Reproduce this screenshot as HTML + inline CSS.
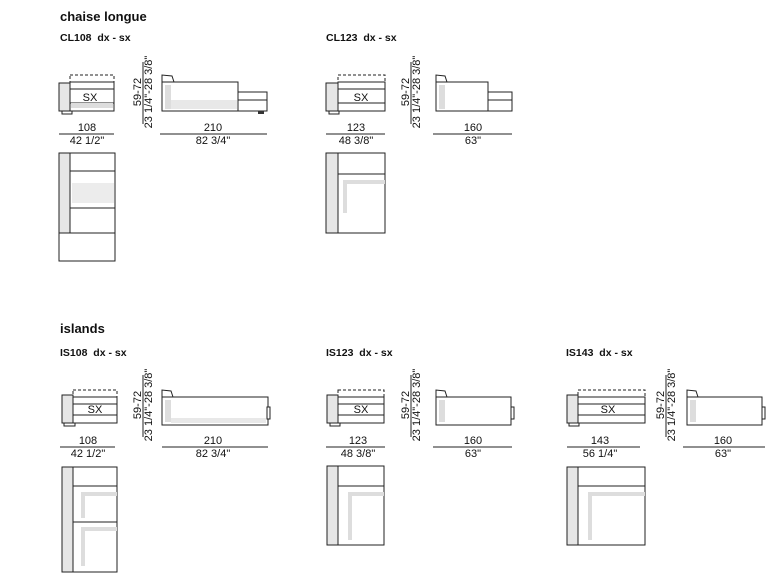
<!DOCTYPE html>
<html><head><meta charset="utf-8"><style>
html,body{margin:0;padding:0;background:#fff;}
svg{display:block;font-family:"Liberation Sans",Arial,sans-serif;}
.t{font-weight:bold;fill:#111;white-space:pre;}
.s{stroke:#222;stroke-width:1;fill:none;}
.g{fill:#e6e6e6;stroke:#222;stroke-width:1;}
.w{fill:#fff;stroke:#222;stroke-width:1;}
.d{stroke:#222;stroke-width:1;fill:none;stroke-dasharray:3,2;}
.n{font-size:11px;fill:#111;text-anchor:middle;}
</style></head><body>
<svg width="774" height="587" viewBox="0 0 774 587" xmlns="http://www.w3.org/2000/svg">
<text x="60" y="21" class="t" font-size="13">chaise longue</text>
<text x="60" y="41" class="t" font-size="10.5">CL108&#160; dx - sx</text>
<text x="326" y="41" class="t" font-size="10.5">CL123&#160; dx - sx</text>
<text x="60" y="333" class="t" font-size="13">islands</text>
<text x="60" y="356" class="t" font-size="10.5">IS108&#160; dx - sx</text>
<text x="326" y="356" class="t" font-size="10.5">IS123&#160; dx - sx</text>
<text x="566" y="356" class="t" font-size="10.5">IS143&#160; dx - sx</text>

<!-- CL108 -->
<g>
<rect x="70" y="75" width="44" height="8" class="d"/>
<rect x="59" y="83" width="11" height="28" class="g"/>
<rect x="70" y="82" width="44" height="29" class="w"/>
<line x1="70" y1="89" x2="114" y2="89" class="s"/><line x1="70" y1="103" x2="114" y2="103" class="s"/>
<rect x="71" y="103" width="42" height="5" fill="#ddd"/>
<text x="90" y="101" class="n" font-size="11">SX</text>
<rect x="62" y="111" width="10" height="3" class="w"/>
<text transform="translate(141,92) rotate(-90)" class="n">59-72</text>
<line x1="143" y1="62" x2="143" y2="124" class="s"/>
<text transform="translate(152,92) rotate(-90)" class="n" font-size="9.5">23 1/4"-28 3/8"</text>
<rect x="162" y="82" width="76" height="29" class="w"/>
<rect x="165" y="85" width="6" height="24" fill="#ddd"/>
<rect x="171" y="100" width="66" height="9" fill="#e8e8e8"/>
<path d="M162 82 L162 75 L172 76 L174 82" class="s"/>
<rect x="238" y="92" width="29" height="19" class="w"/>
<line x1="238" y1="100" x2="267" y2="100" class="s"/>
<rect x="258" y="111" width="6" height="3" fill="#333"/>
<text x="87" y="131" class="n">108</text><line x1="59" y1="134" x2="114" y2="134" class="s"/><text x="87" y="144" class="n" font-size="10">42 1/2"</text>
<text x="213" y="131" class="n">210</text><line x1="160" y1="134" x2="267" y2="134" class="s"/><text x="213" y="144" class="n" font-size="10">82 3/4"</text>
<rect x="59" y="153" width="56" height="108" class="w"/>
<rect x="59" y="153" width="11" height="80" class="g"/>
<line x1="70" y1="171" x2="115" y2="171" class="s"/>
<rect x="72" y="183" width="42" height="20" fill="#ececec"/>
<line x1="70" y1="208" x2="115" y2="208" class="s"/>
<line x1="59" y1="233" x2="115" y2="233" class="s"/>
</g>

<!-- CL123 -->
<g>
<rect x="338" y="75" width="47" height="8" class="d"/>
<rect x="326" y="83" width="12" height="28" class="g"/>
<rect x="338" y="82" width="47" height="29" class="w"/>
<line x1="338" y1="89" x2="385" y2="89" class="s"/><line x1="338" y1="103" x2="385" y2="103" class="s"/>
<text x="361" y="101" class="n" font-size="11">SX</text>
<rect x="329" y="111" width="10" height="3" class="w"/>
<text transform="translate(409,92) rotate(-90)" class="n">59-72</text>
<line x1="411" y1="62" x2="411" y2="124" class="s"/>
<text transform="translate(420,92) rotate(-90)" class="n" font-size="9.5">23 1/4"-28 3/8"</text>
<rect x="436" y="82" width="52" height="29" class="w"/>
<rect x="439" y="85" width="6" height="24" fill="#ddd"/>
<path d="M436 82 L436 75 L445 76 L447 82" class="s"/>
<rect x="488" y="92" width="24" height="19" class="w"/>
<line x1="488" y1="100" x2="512" y2="100" class="s"/>
<text x="356" y="131" class="n">123</text><line x1="326" y1="134" x2="385" y2="134" class="s"/><text x="356" y="144" class="n" font-size="10">48 3/8"</text>
<text x="473" y="131" class="n">160</text><line x1="433" y1="134" x2="512" y2="134" class="s"/><text x="473" y="144" class="n" font-size="10">63"</text>
<rect x="326" y="153" width="59" height="80" class="w"/>
<rect x="326" y="153" width="12" height="80" class="g"/>
<line x1="338" y1="174" x2="385" y2="174" class="s"/>
<path d="M345 213 L345 182 L385 182" stroke="#ddd" stroke-width="4" fill="none"/>
</g>

<!-- IS108 -->
<g>
<rect x="73" y="390" width="44" height="8" class="d"/>
<rect x="62" y="395" width="11" height="28" class="g"/>
<rect x="73" y="397" width="44" height="26" class="w"/>
<line x1="73" y1="404" x2="117" y2="404" class="s"/><line x1="73" y1="415" x2="117" y2="415" class="s"/>
<text x="95" y="413" class="n" font-size="11">SX</text>
<rect x="64" y="423" width="11" height="3" class="w"/>
<text transform="translate(141,405) rotate(-90)" class="n">59-72</text>
<line x1="143" y1="375" x2="143" y2="437" class="s"/>
<text transform="translate(152,405) rotate(-90)" class="n" font-size="9.5">23 1/4"-28 3/8"</text>
<rect x="162" y="397" width="106" height="28" class="w"/>
<rect x="165" y="400" width="6" height="22" fill="#ddd"/>
<rect x="171" y="418" width="95" height="5" fill="#e8e8e8"/>
<path d="M162 397 L162 390 L171 391 L173 397" class="s"/>
<rect x="267" y="407" width="3" height="12" class="w"/>
<text x="88" y="444" class="n">108</text><line x1="60" y1="447" x2="115" y2="447" class="s"/><text x="88" y="457" class="n" font-size="10">42 1/2"</text>
<text x="213" y="444" class="n">210</text><line x1="162" y1="447" x2="268" y2="447" class="s"/><text x="213" y="457" class="n" font-size="10">82 3/4"</text>
<rect x="62" y="467" width="55" height="105" class="w"/>
<rect x="62" y="467" width="11" height="105" class="g"/>
<line x1="73" y1="486" x2="117" y2="486" class="s"/>
<line x1="73" y1="522" x2="117" y2="522" class="s"/>
<path d="M83 518 L83 494 L117 494 M83 566 L83 529 L117 529" stroke="#ddd" stroke-width="4" fill="none"/>
</g>

<!-- IS123 -->
<g>
<rect x="338" y="390" width="46" height="8" class="d"/>
<rect x="327" y="395" width="11" height="28" class="g"/>
<rect x="338" y="397" width="46" height="26" class="w"/>
<line x1="338" y1="404" x2="384" y2="404" class="s"/><line x1="338" y1="415" x2="384" y2="415" class="s"/>
<text x="361" y="413" class="n" font-size="11">SX</text>
<rect x="330" y="423" width="10" height="3" class="w"/>
<text transform="translate(409,405) rotate(-90)" class="n">59-72</text>
<line x1="411" y1="375" x2="411" y2="437" class="s"/>
<text transform="translate(420,405) rotate(-90)" class="n" font-size="9.5">23 1/4"-28 3/8"</text>
<rect x="436" y="397" width="75" height="28" class="w"/>
<rect x="439" y="400" width="6" height="22" fill="#ddd"/>
<path d="M436 397 L436 390 L445 391 L447 397" class="s"/>
<rect x="511" y="407" width="3" height="12" class="w"/>
<text x="358" y="444" class="n">123</text><line x1="326" y1="447" x2="385" y2="447" class="s"/><text x="358" y="457" class="n" font-size="10">48 3/8"</text>
<text x="473" y="444" class="n">160</text><line x1="433" y1="447" x2="512" y2="447" class="s"/><text x="473" y="457" class="n" font-size="10">63"</text>
<rect x="327" y="466" width="57" height="79" class="w"/>
<rect x="327" y="466" width="11" height="79" class="g"/>
<line x1="338" y1="486" x2="384" y2="486" class="s"/>
<path d="M350 540 L350 494 L384 494" stroke="#ddd" stroke-width="4" fill="none"/>
</g>

<!-- IS143 -->
<g>
<rect x="578" y="390" width="67" height="8" class="d"/>
<rect x="567" y="395" width="11" height="28" class="g"/>
<rect x="578" y="397" width="67" height="26" class="w"/>
<line x1="578" y1="404" x2="645" y2="404" class="s"/><line x1="578" y1="415" x2="645" y2="415" class="s"/>
<text x="608" y="413" class="n" font-size="11">SX</text>
<rect x="569" y="423" width="10" height="3" class="w"/>
<text transform="translate(664,405) rotate(-90)" class="n">59-72</text>
<line x1="666" y1="375" x2="666" y2="437" class="s"/>
<text transform="translate(675,405) rotate(-90)" class="n" font-size="9.5">23 1/4"-28 3/8"</text>
<rect x="687" y="397" width="75" height="28" class="w"/>
<rect x="690" y="400" width="6" height="22" fill="#ddd"/>
<path d="M687 397 L687 390 L696 391 L698 397" class="s"/>
<rect x="762" y="407" width="3" height="12" class="w"/>
<text x="600" y="444" class="n">143</text><line x1="567" y1="447" x2="640" y2="447" class="s"/><text x="600" y="457" class="n" font-size="10">56 1/4"</text>
<text x="723" y="444" class="n">160</text><line x1="683" y1="447" x2="765" y2="447" class="s"/><text x="723" y="457" class="n" font-size="10">63"</text>
<rect x="567" y="467" width="78" height="78" class="w"/>
<rect x="567" y="467" width="11" height="78" class="g"/>
<line x1="578" y1="486" x2="645" y2="486" class="s"/>
<path d="M590 540 L590 494 L645 494" stroke="#ddd" stroke-width="4" fill="none"/>
</g>
</svg>
</body></html>
